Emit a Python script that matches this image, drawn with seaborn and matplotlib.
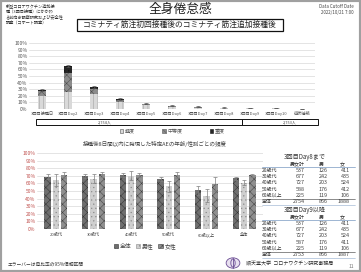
import numpy as np
import pandas as pd
import matplotlib
matplotlib.use('Agg')
import matplotlib.pyplot as plt
import seaborn as sns
from matplotlib.patches import Rectangle, Patch, Circle, Ellipse
from matplotlib.lines import Line2D

# ---------------- data ----------------
days = ['3回目接種日', '3回目Day2', '3回目Day3', '3回目Day4', '3回目Day5', '3回目Day6',
        '3回目Day7', '3回目Day8', '3回目Day9', '3回目Day10', '症状継続']
mild = [20, 26, 22, 11, 6, 3.5, 2.2, 1.6, 1.1, 0.8, 0.4]
moderate = [7, 28, 9, 3, 1.6, 1.1, 0.8, 0.5, 0.4, 0.3, 0.1]
severe = [2, 11, 3, 1, 0.4, 0.3, 0.2, 0.1, 0.1, 0.1, 0.05]
top_err = [1.5, 1.8, 1.6, 1.2, 0.9, 0.7, 0.6, 0.5, 0.4, 0.3, 0.2]
severity_labels = ['軽度', '中等度', '重度']
group_labels = ['2,754人', '2,753人']

ages = ['20歳代', '30歳代', '40歳代', '50歳代', '60歳以上', '全体']
sexes = ['全体', '男性', '女性']
all_v = [69, 70, 71, 66, 51, 67]
male_v = [64, 66, 70, 56, 44, 61]
female_v = [71, 72, 71, 71, 59, 71]
all_ci = [3, 3, 3, 3, 6, 2]
male_ci = [8, 6, 6, 7, 9, 3]
female_ci = [4, 3, 3, 4, 9, 2]

table_cols = ['男女計', '男', '女']
table_rows = ['20歳代', '30歳代', '40歳代', '50歳代', '60歳以上', '全体']
t1_total = [537, 677, 727, 588, 225, 2754]
t1_male = [126, 242, 203, 176, 119, 866]
t1_female = [411, 435, 524, 412, 106, 1888]
t2_total = [537, 677, 727, 587, 225, 2753]
t2_male = [126, 242, 203, 176, 119, 866]
t2_female = [411, 435, 524, 411, 106, 1887]

# ---------------- style ----------------
sns.set_theme(style='white')
plt.rcParams['font.family'] = ['Noto Sans CJK JP', 'DejaVu Sans']
plt.rcParams['hatch.linewidth'] = 0.35
plt.rcParams['axes.unicode_minus'] = False

W, H = 361, 272
fig = plt.figure(figsize=(W / 100, H / 100), dpi=100)
fig.patch.set_facecolor('white')

def fx(px):
    return px / W

def fy(py):
    return 1 - py / H

# slide frame
fig.add_artist(Rectangle((0, 0), 1, 1, transform=fig.transFigure, fill=False,
                         edgecolor='#a0a0a0', linewidth=3))

# header texts
fig.text(fx(6), fy(3), '新型コロナワクチン追加接\n種（3回目接種）にかかわ\nる前向き観察研究および安全性\n調査（コホート調査）',
         fontsize=3.0, va='top', ha='left', color='#333333', linespacing=1.3)
fig.text(fx(180), fy(9), '全身倦怠感', fontsize=9.2, ha='center', va='center', color='#222222')
fig.text(fx(180), fy(25), 'コミナティ筋注初回接種後のコミナティ筋注追加接種後', fontsize=5.6,
         ha='center', va='center', color='#222222')
fig.add_artist(Rectangle((fx(77), fy(31)), fx(283) - fx(77), fy(19) - fy(31),
                         transform=fig.transFigure, fill=False, edgecolor='#111111', linewidth=0.9))
fig.text(fx(354), fy(4), 'Data Cutoff Date\n2022/10/21 7:00', fontsize=3.2, ha='right', va='top',
         color='#444444', linespacing=1.2)

# ---------------- top chart ----------------
ax1 = fig.add_axes([fx(29), fy(109), fx(315) - fx(29), fy(43) - fy(109)])
c_sev, c_mod, c_mild = '#262626', '#8c8c8c', '#d9d9d9'
cum3 = np.array(mild) + np.array(moderate) + np.array(severe)
cum2 = np.array(mild) + np.array(moderate)
sns.barplot(x=days, y=cum3, color=c_sev, width=0.31, saturation=1, errorbar=None,
            ax=ax1, edgecolor='#111111', linewidth=0, hatch='....')
sns.barplot(x=days, y=cum2, color=c_mod, width=0.31, saturation=1, errorbar=None,
            ax=ax1, edgecolor='#4a4a4a', linewidth=0, hatch='xxxx')
sns.barplot(x=days, y=mild, color=c_mild, width=0.31, saturation=1, errorbar=None,
            ax=ax1, edgecolor='#9a9a9a', linewidth=0, hatch='||||')
ax1.errorbar(np.arange(len(days)), cum3, yerr=top_err, fmt='none', ecolor='#555555',
             elinewidth=0.5, capsize=1.3, capthick=0.5)
ax1.set_ylim(0, 100)
ax1.set_xlim(-0.5, len(days) - 0.5)
ax1.set_yticks(np.arange(0, 101, 10))
ax1.set_yticklabels([f'{v}%' for v in range(0, 101, 10)])
ax1.yaxis.grid(True, color='#d9d9d9', linewidth=0.5)
ax1.set_axisbelow(True)
for s in ax1.spines.values():
    s.set_visible(False)
ax1.tick_params(axis='y', labelsize=3.6, colors='#555555', length=0, pad=1)
ax1.tick_params(axis='x', labelsize=3.0, colors='#555555', length=0, pad=2)
ax1.set_xlabel('')
ax1.set_ylabel('')
ax1.axhline(0, color='#bfbfbf', linewidth=0.5)

# group boxes
for (x0, x1, lab, tx) in [(36, 242, group_labels[0], 105), (242, 318, group_labels[1], 290)]:
    fig.add_artist(Rectangle((fx(x0), fy(125)), fx(x1) - fx(x0), fy(119) - fy(125),
                             transform=fig.transFigure, fill=False, edgecolor='#111111',
                             linewidth=0.7))
    fig.text(fx(tx), fy(122), lab, fontsize=2.8, ha='center', va='center', color='#444444')

h_top = [Patch(facecolor=c_mild, edgecolor='#555555', linewidth=0.4),
         Patch(facecolor=c_mod, edgecolor='#555555', linewidth=0.4, hatch='xxxx'),
         Patch(facecolor=c_sev, edgecolor='#111111', linewidth=0.4)]
fig.legend(h_top, severity_labels, loc='center', bbox_to_anchor=(fx(172), fy(131)),
           ncol=3, frameon=False, fontsize=3.6, handlelength=0.7, handleheight=0.7,
           handletextpad=0.3, columnspacing=5.5, labelcolor='#555555')

# ---------------- bottom chart ----------------
fig.text(fx(155), fy(144), '接種後8日間以内に発現した特定AEの年齢/性別ごとの頻度',
         fontsize=4.0, ha='center', va='center', color='#444444')
ax2 = fig.add_axes([fx(37), fy(229), fx(263) - fx(37), fy(153) - fy(229)])
df = pd.DataFrame({
    'age': ages * 3,
    'sex': [sexes[0]] * 6 + [sexes[1]] * 6 + [sexes[2]] * 6,
    'val': all_v + male_v + female_v,
})
cols = {'全体': '#6f6f6f', '男性': '#cfcfcf', '女性': '#8f8f8f'}
hatches = {'全体': 'xxxx', '男性': '....', '女性': 'xxxx'}
edges = {'全体': '#333333', '男性': '#8a8a8a', '女性': '#3f3f3f'}
sns.barplot(data=df, x='age', y='val', hue='sex', hue_order=sexes, order=ages,
            palette=cols, width=0.66, gap=0.22, saturation=1, errorbar=None,
            legend=False, ax=ax2, linewidth=0)
cis = {'全体': all_ci, '男性': male_ci, '女性': female_ci}
vals = {'全体': all_v, '男性': male_v, '女性': female_v}
bars = [p for p in ax2.patches if isinstance(p, Rectangle)]
for k, sx in enumerate(sexes):
    grp = bars[k * len(ages):(k + 1) * len(ages)]
    for p in grp:
        p.set_hatch(hatches[sx])
        p.set_edgecolor(edges[sx])
        p.set_linewidth(0)
    xs = [p.get_x() + p.get_width() / 2 for p in grp]
    ax2.errorbar(xs, vals[sx], yerr=cis[sx], fmt='none', ecolor='#7f7f7f',
                 elinewidth=0.5, capsize=1.3, capthick=0.5)
ax2.set_ylim(0, 100)
ax2.set_xlim(-0.5, len(ages) - 0.5)
ax2.set_yticks(np.arange(0, 101, 10))
ax2.set_yticklabels([f'{v}%' for v in range(0, 101, 10)])
ax2.yaxis.grid(True, color='#d9d9d9', linewidth=0.5)
ax2.set_axisbelow(True)
for s in ax2.spines.values():
    s.set_visible(False)
ax2.tick_params(axis='y', labelsize=3.6, colors='#c0504d', length=0, pad=1)
ax2.tick_params(axis='x', labelsize=3.0, colors='#444444', length=0, pad=3)
ax2.set_xlabel('')
ax2.set_ylabel('')

h_bot = [Patch(facecolor=cols[s], edgecolor=edges[s], linewidth=0.4, hatch=hatches[s]) for s in sexes]
fig.legend(h_bot, sexes, loc='center', bbox_to_anchor=(fx(145), fy(246)),
           ncol=3, frameon=False, fontsize=4.2, handlelength=0.7, handleheight=0.7,
           handletextpad=0.3, columnspacing=0.8, labelcolor='#444444')

fig.text(fx(8), fy(264), 'エラーバーは母比率の95%信頼区間', fontsize=3.4, ha='left', va='center',
         color='#333333')

# ---------------- tables ----------------
def draw_table(title, ytitle, tot, male, fem):
    fig.text(fx(305), fy(ytitle), title, fontsize=4.4, ha='center', va='center', color='#333333')
    yh = ytitle + 7
    for cx, c in zip([297, 321, 342], table_cols):
        fig.text(fx(cx), fy(yh), c, fontsize=3.6, ha='center', va='center', color='#333333')
    fig.add_artist(Line2D([fx(262), fx(355)], [fy(yh + 3), fy(yh + 3)], transform=fig.transFigure,
                          color='#8eaacb', linewidth=0.6))
    for i, r in enumerate(table_rows):
        yr = yh + 6.5 + i * 6.2
        fig.text(fx(262), fy(yr), r, fontsize=3.6, ha='left', va='center', color='#333333')
        fig.text(fx(305), fy(yr), str(tot[i]), fontsize=3.9, ha='right', va='center', color='#444444')
        fig.text(fx(328), fy(yr), str(male[i]), fontsize=3.9, ha='right', va='center', color='#444444')
        fig.text(fx(350), fy(yr), str(fem[i]), fontsize=3.9, ha='right', va='center', color='#444444')
        if i == len(table_rows) - 1:
            fig.add_artist(Line2D([fx(262), fx(355)], [fy(yr - 3), fy(yr - 3)],
                                  transform=fig.transFigure, color='#333333', linewidth=0.4))
            fig.add_artist(Line2D([fx(262), fx(355)], [fy(yr + 3), fy(yr + 3)],
                                  transform=fig.transFigure, color='#8eaacb', linewidth=0.4))

draw_table('3回目Day8まで', 157, t1_total, t1_male, t1_female)
draw_table('3回目Day9以降', 210, t2_total, t2_male, t2_female)

# ---------------- footer ----------------
fig.add_artist(Circle((fx(233), fy(263)), 0.019, transform=fig.transFigure,
                      facecolor='#e8e0f0', edgecolor='#6a4c93', linewidth=0.6))
fig.add_artist(Ellipse((fx(233), fy(263)), 0.012, 0.03, transform=fig.transFigure,
                       facecolor='none', edgecolor='#6a4c93', linewidth=0.6))
fig.add_artist(Line2D([fx(233), fx(233)], [fy(258), fy(268)], transform=fig.transFigure,
                      color='#6a4c93', linewidth=0.6))
fig.text(fx(246), fy(264), '順天堂大学  コロナワクチン研究事務局', fontsize=3.6, ha='left', va='center',
         color='#333333')
fig.text(fx(354), fy(266), '11', fontsize=3.6, ha='right', va='center', color='#777777')

fig.savefig('out.png', dpi=100, facecolor='white')
